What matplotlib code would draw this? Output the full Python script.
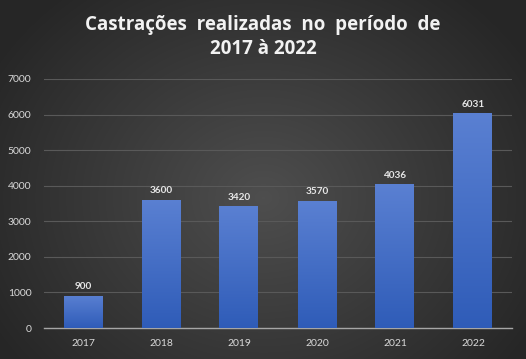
import numpy as np
import matplotlib
matplotlib.use("Agg")
import matplotlib.pyplot as plt
from matplotlib.colors import LinearSegmentedColormap

categories = ["2017", "2018", "2019", "2020", "2021", "2022"]
values = [900, 3600, 3420, 3570, 4036, 6031]
yticks = [0, 1000, 2000, 3000, 4000, 5000, 6000, 7000]
title = "Castrações  realizadas  no  período  de\n2017 à 2022"

W, H = 526, 359
fig = plt.figure(figsize=(W / 100, H / 100), dpi=100)

# radial gradient background
bg = fig.add_axes([0, 0, 1, 1], zorder=-10)
yy, xx = np.mgrid[0:H, 0:W]
r = np.sqrt(((xx - W * 0.5) / (W * 0.6)) ** 2 + ((yy - H * 0.55) / (H * 0.75)) ** 2)
r = np.clip(r, 0, 1)
bgcmap = LinearSegmentedColormap.from_list("bg", ["#4e4e4e", "#3a3a3a", "#262626"])
bg.imshow(r, cmap=bgcmap, vmin=0, vmax=1, aspect="auto", extent=[0, 1, 0, 1])
bg.axis("off")

ax = fig.add_axes([44 / W, 1 - 328 / H, (512 - 44) / W, (328 - 79) / H])
ax.patch.set_alpha(0)
x = np.arange(len(categories))
bars = ax.bar(x, values, width=0.5, color="#3f6ac6", zorder=3)

barcmap = LinearSegmentedColormap.from_list("bar", ["#2f5cb8", "#5a80d2"])
grad = np.linspace(0, 1, 256).reshape(-1, 1)
for b, v in zip(bars, values):
    x0, y0 = b.get_x(), b.get_y()
    w, h = b.get_width(), b.get_height()
    im = ax.imshow(grad, cmap=barcmap, aspect="auto", origin="lower",
                   extent=[x0, x0 + w, y0, y0 + h], zorder=4)
    im.set_clip_path(b)
    ax.text(x0 + w / 2, h + 130, f"{v}", ha="center", va="bottom",
            color="#e6e6e6", fontsize=7.2, fontweight="bold", family="Lato", zorder=5)

ax.set_xlim(-0.5, len(categories) - 0.5)
ax.set_ylim(0, 7000)
ax.set_yticks(yticks)
ax.set_yticklabels([str(t) for t in yticks])
ax.set_xticks(x)
ax.set_xticklabels(categories)
ax.grid(axis="y", color="#595959", linewidth=0.8, zorder=0)
ax.set_axisbelow(True)
for s in ["top", "right", "left"]:
    ax.spines[s].set_visible(False)
ax.spines["bottom"].set_color("#a6a6a6")
ax.spines["bottom"].set_linewidth(1.0)
ax.tick_params(axis="both", length=0, colors="#d9d9d9", labelsize=7.5)
ax.tick_params(axis="x", pad=8)
ax.tick_params(axis="y", pad=9)
for lab in ax.get_xticklabels() + ax.get_yticklabels():
    lab.set_family("Lato")

fig.text(0.5, 1 - 37 / H, title, ha="center", va="center", color="#f2f2f2",
         fontsize=13.5, fontweight="bold", family="Open Sans", linespacing=1.3)

fig.savefig("out.png", dpi=100)
